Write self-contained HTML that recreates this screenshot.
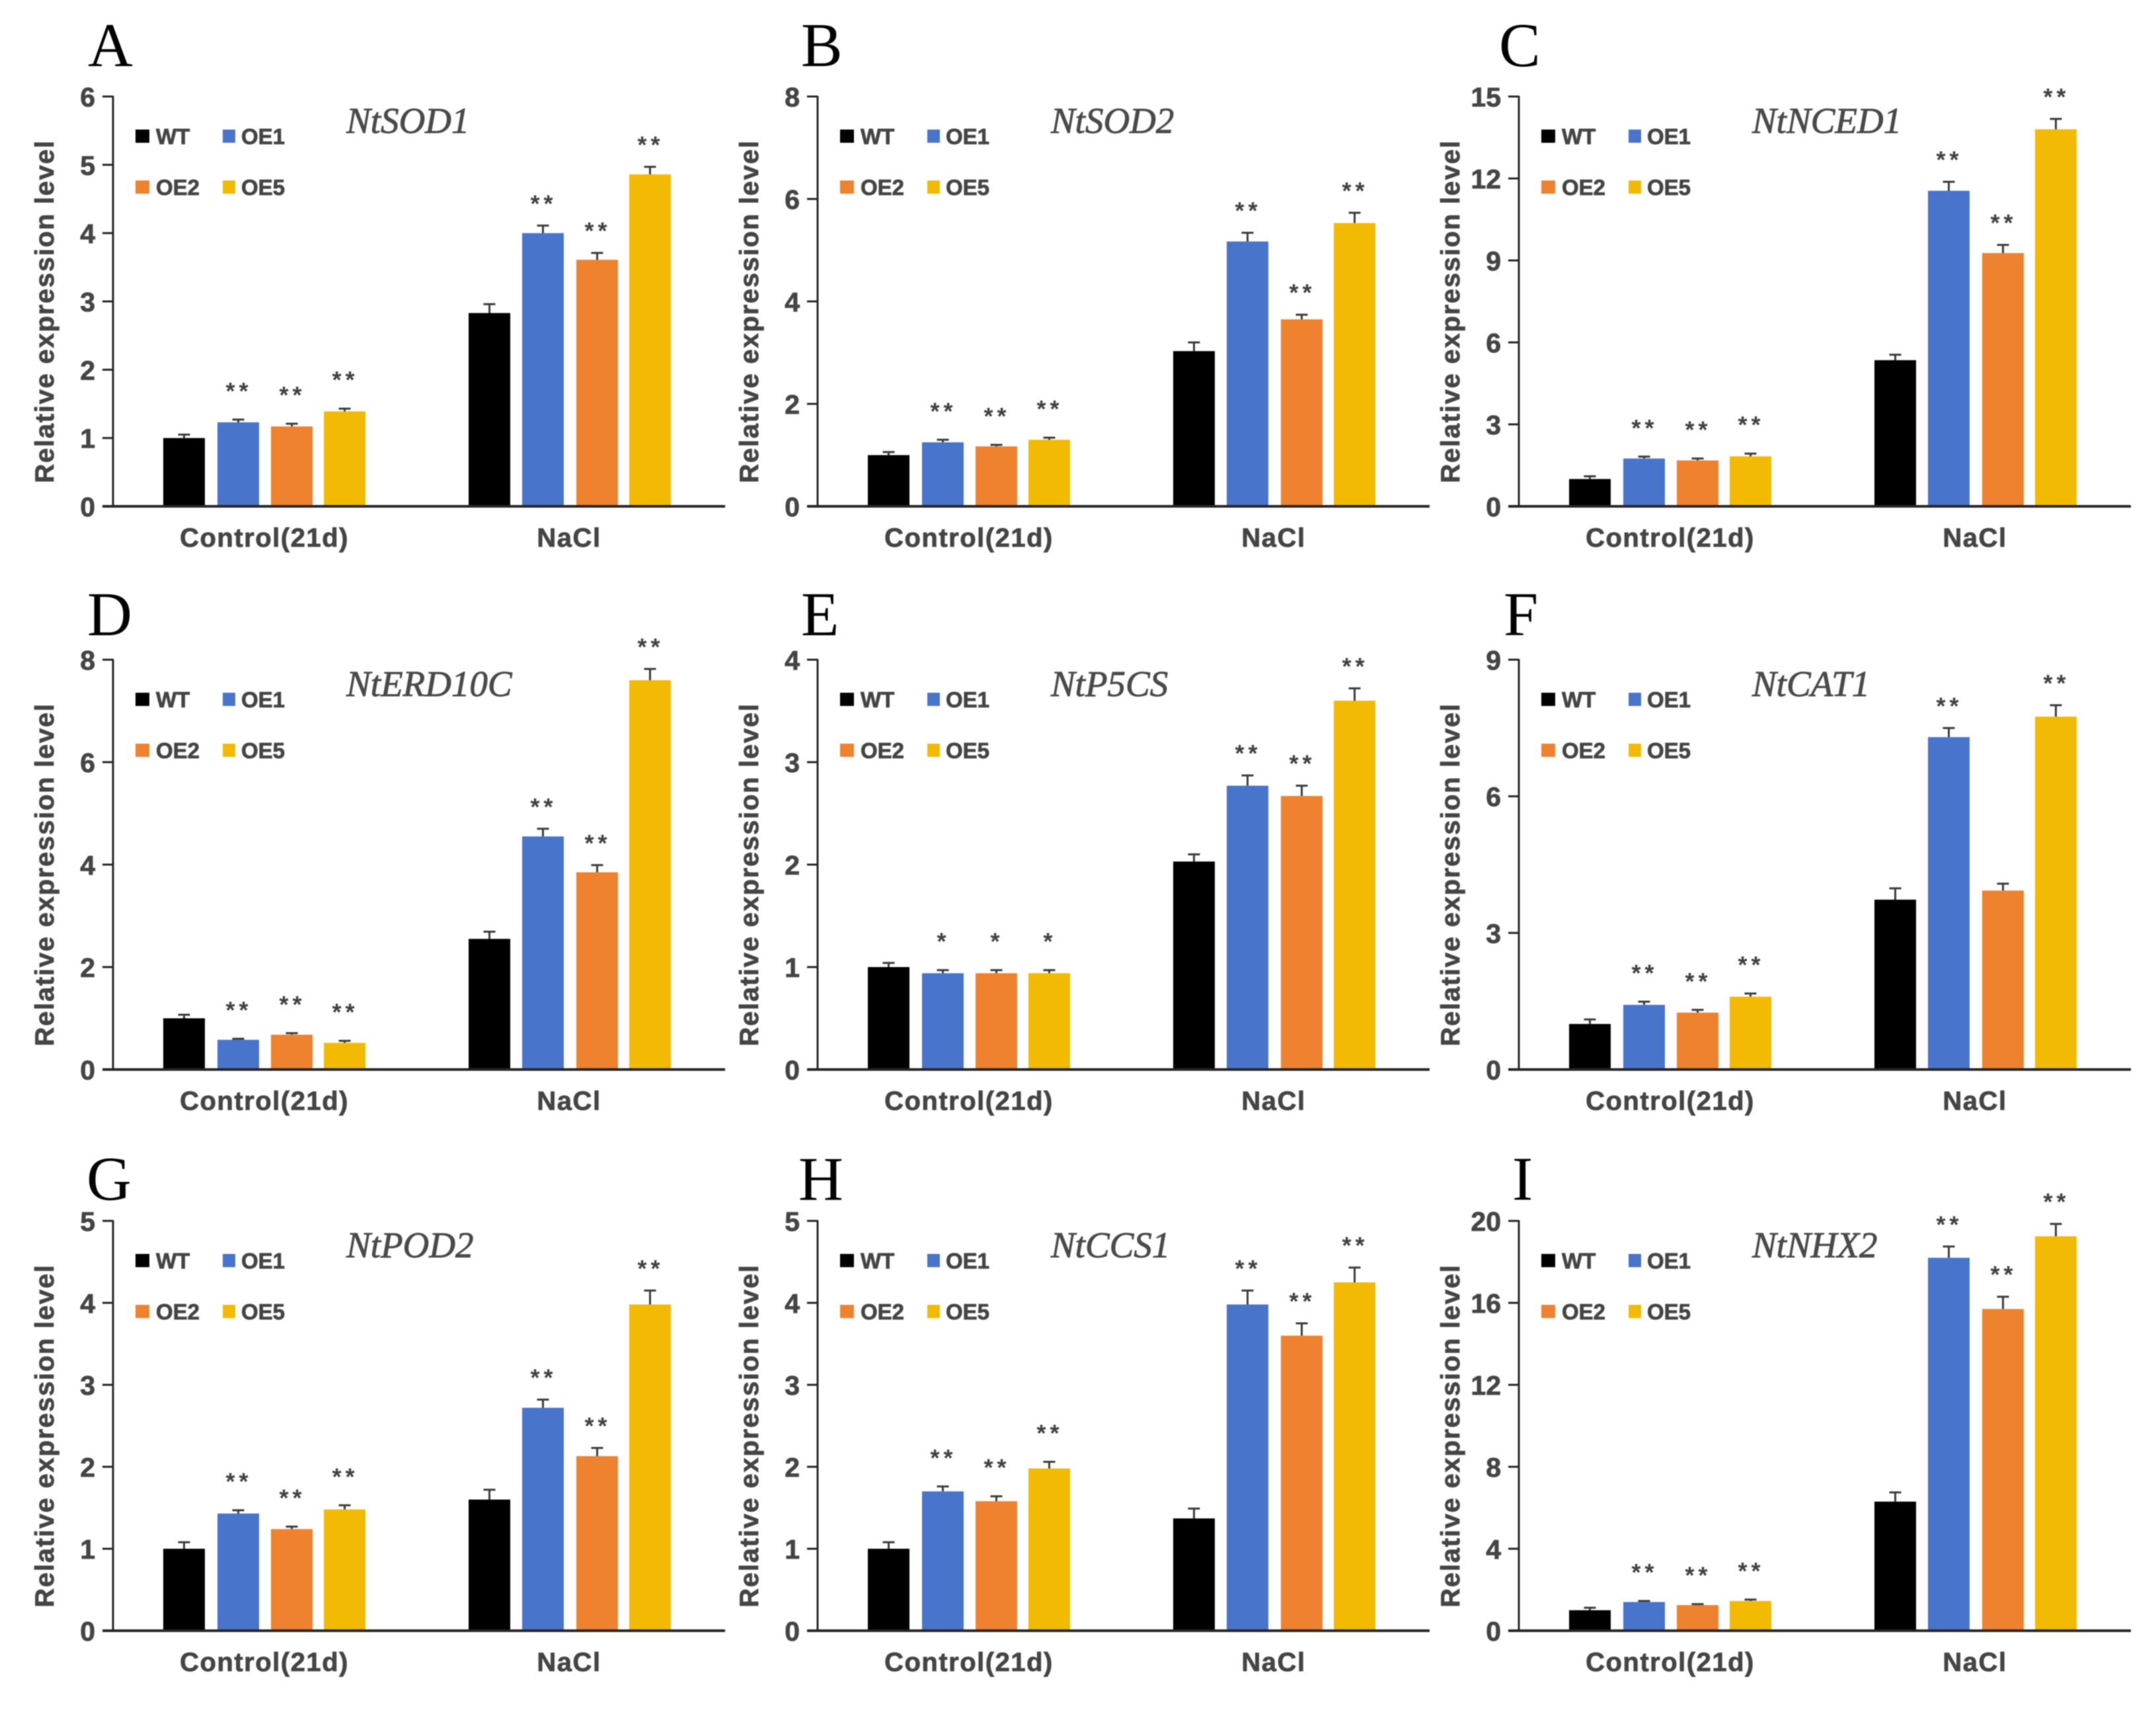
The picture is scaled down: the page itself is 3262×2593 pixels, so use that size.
<!DOCTYPE html>
<html lang="en">
<head>
<meta charset="utf-8">
<title>Relative expression levels of stress-related genes</title>
<style>
html,body{margin:0;padding:0;background:#fff;}
body{width:3262px;height:2593px;overflow:hidden;}
svg{display:block;filter:blur(0.9px);}
text{font-family:"Liberation Sans",Arial,sans-serif;}
</style>
</head>
<body>
<svg id="figure" xmlns="http://www.w3.org/2000/svg" width="3262" height="2593" viewBox="0 0 3262 2593"></svg>
<script>
// ---- data: [WT, OE1, OE2, OE5] Control then NaCl ----
const seriesNames = ["WT", "OE1", "OE2", "OE5"];
const groupNames = ["Control(21d)", "NaCl"];
const panelLetters = ["A", "B", "C", "D", "E", "F", "G", "H", "I"];
const geneNames = ["NtSOD1", "NtSOD2", "NtNCED1", "NtERD10C", "NtP5CS", "NtCAT1", "NtPOD2", "NtCCS1", "NtNHX2"];

const ticksA = [0, 1, 2, 3, 4, 5, 6];
const meansA = [1.0, 1.23, 1.17, 1.39, 2.83, 4.0, 3.61, 4.86];
const errorsA = [0.05, 0.04, 0.04, 0.04, 0.13, 0.11, 0.1, 0.11];
const starsA = ["", "**", "**", "**", "", "**", "**", "**"];

const ticksB = [0, 2, 4, 6, 8];
const meansB = [1.0, 1.25, 1.17, 1.3, 3.03, 5.17, 3.65, 5.53];
const errorsB = [0.06, 0.05, 0.03, 0.04, 0.17, 0.17, 0.09, 0.2];
const starsB = ["", "**", "**", "**", "", "**", "**", "**"];

const ticksC = [0, 3, 6, 9, 12, 15];
const meansC = [1.0, 1.75, 1.68, 1.83, 5.35, 11.55, 9.27, 13.8];
const errorsC = [0.1, 0.07, 0.07, 0.1, 0.2, 0.33, 0.3, 0.38];
const starsC = ["", "**", "**", "**", "", "**", "**", "**"];

const ticksD = [0, 2, 4, 6, 8];
const meansD = [1.0, 0.58, 0.68, 0.52, 2.55, 4.55, 3.85, 7.6];
const errorsD = [0.07, 0.02, 0.03, 0.04, 0.14, 0.15, 0.14, 0.22];
const starsD = ["", "**", "**", "**", "", "**", "**", "**"];

const ticksE = [0, 1, 2, 3, 4];
const meansE = [1.0, 0.94, 0.94, 0.94, 2.03, 2.77, 2.67, 3.6];
const errorsE = [0.04, 0.03, 0.03, 0.03, 0.07, 0.1, 0.1, 0.12];
const starsE = ["", "*", "*", "*", "", "**", "**", "**"];

const ticksF = [0, 3, 6, 9];
const meansF = [1.0, 1.42, 1.25, 1.6, 3.73, 7.3, 3.93, 7.75];
const errorsF = [0.1, 0.07, 0.06, 0.07, 0.25, 0.2, 0.15, 0.25];
const starsF = ["", "**", "**", "**", "", "**", "", "**"];

const ticksG = [0, 1, 2, 3, 4, 5];
const meansG = [1.0, 1.43, 1.24, 1.48, 1.6, 2.72, 2.13, 3.98];
const errorsG = [0.08, 0.04, 0.03, 0.05, 0.12, 0.1, 0.1, 0.17];
const starsG = ["", "**", "**", "**", "", "**", "**", "**"];

const ticksH = [0, 1, 2, 3, 4, 5];
const meansH = [1.0, 1.7, 1.58, 1.98, 1.37, 3.98, 3.6, 4.25];
const errorsH = [0.08, 0.06, 0.06, 0.08, 0.12, 0.17, 0.15, 0.18];
const starsH = ["", "**", "**", "**", "", "**", "**", "**"];

const ticksI = [0, 4, 8, 12, 16, 20];
const meansI = [1.0, 1.4, 1.25, 1.45, 6.3, 18.2, 15.7, 19.25];
const errorsI = [0.12, 0.05, 0.05, 0.07, 0.45, 0.55, 0.6, 0.6];
const starsI = ["", "**", "**", "**", "", "**", "**", "**"];

const allTicks = [ticksA, ticksB, ticksC, ticksD, ticksE, ticksF, ticksG, ticksH, ticksI];
const allMeans = [meansA, meansB, meansC, meansD, meansE, meansF, meansG, meansH, meansI];
const allErrors = [errorsA, errorsB, errorsC, errorsD, errorsE, errorsF, errorsG, errorsH, errorsI];
const allStars = [starsA, starsB, starsC, starsD, starsE, starsF, starsG, starsH, starsI];

// ---- layout / style (not data) ----
const seriesColors = ["#000000", "#4874CB", "#EE822F", "#F2BA02"];
const textColor = "#454545";
const axisColor = "#262626";
const columnAxisX = [171, 1237, 2298];
const rowTopY = [146, 998, 1847];
const plotHeight = 620;
const axisLength = 926;
const barWidth = 63;
const barOffsets = [76, 158, 239, 319, 538, 619, 701, 781];
const letterX = [133, 1212, 2268, 132, 1212, 2275, 131, 1208, 2288];
const letterBaseline = [100, 961, 1815];

const NS = "http://www.w3.org/2000/svg";
const fig = document.getElementById("figure");

function make(parent, tag, attrs, txt) {
  const el = document.createElementNS(NS, tag);
  for (const k in attrs) el.setAttribute(k, attrs[k]);
  if (txt !== undefined) el.textContent = txt;
  parent.appendChild(el);
  return el;
}

function drawPanel(i) {
  const col = i % 3;
  const row = Math.floor(i / 3);
  const axisX = columnAxisX[col];
  const top = rowTopY[row];
  const base = top + plotHeight;
  const ticks = allTicks[i];
  const yMax = ticks[ticks.length - 1];
  const yScale = function (v) { return base - (v / yMax) * plotHeight; };
  const xScale = function (k) { return axisX + barOffsets[k]; };

  const g = make(fig, "g", {});
  
  

  const letter = make(g, "text", {x: letterX[i], y: letterBaseline[row], "font-size": 94, fill: "#000"}, panelLetters[i]);
  letter.setAttribute('style', 'font-family:"Liberation Serif",serif');
  
  

  const title = make(g, "text", {x: axisX + 353, y: top + 55, "font-size": 55, fill: "#4a4a4a", stroke: "#4a4a4a", "stroke-width": 0.9, "font-style": "italic"}, geneNames[i]);
  title.setAttribute('style', 'font-family:"Liberation Serif",serif');
  
  

  const yTitle = make(g, "text", {x: 0, y: 0, "font-size": 40, "font-weight": "bold", fill: textColor, stroke: textColor, "stroke-width": 0.8, "text-anchor": "middle", "letter-spacing": "1.75", transform: "translate(" + (axisX - 90) + "," + (top + 325) + ") rotate(-90)"}, "Relative expression level");
  
  

  // bars + error bars + significance marks
  allMeans[i].forEach(function (v, k) {
    const s = k % 4;
    const x = xScale(k);
    const y = yScale(v);
    const bar = make(g, "rect", {x: x, y: y, width: barWidth, height: base - y, fill: seriesColors[s]});
    
    

    const cx = x + barWidth / 2;
    const eTop = yScale(v + allErrors[i][k]);
    const stem = make(g, "line", {x1: cx, x2: cx, y1: y, y2: eTop, stroke: "#3a3a3a", "stroke-width": 3});
    
    
    const cap = make(g, "line", {x1: cx - 9, x2: cx + 9, y1: eTop, y2: eTop, stroke: "#3a3a3a", "stroke-width": 3});
    
    

    if (allStars[i][k]) {
      const gap = k < 4 ? 31 : 21;
      const star = make(g, "text", {x: cx + 1, y: eTop - gap, "font-size": 36, "font-weight": "bold", fill: "#404040", "text-anchor": "middle", "letter-spacing": "6"}, allStars[i][k]);
      
      
    }
  });

  // axes
  const yAxis = make(g, "line", {x1: axisX, x2: axisX, y1: top - 1, y2: base, stroke: axisColor, "stroke-width": 3});
  
  
  const xAxis = make(g, "line", {x1: axisX - 16, x2: axisX + axisLength, y1: base, y2: base, stroke: axisColor, "stroke-width": 4});
  
  

  ticks.forEach(function (t) {
    const y = yScale(t);
    const mark = make(g, "line", {x1: axisX - 16, x2: axisX, y1: y, y2: y, stroke: axisColor, "stroke-width": 3});
    
    
    const label = make(g, "text", {x: axisX - 27, y: y + 15, "font-size": 41, "font-weight": "bold", fill: textColor, stroke: textColor, "stroke-width": 0.8, "text-anchor": "end"}, String(t));
    
    
  });

  // category labels
  groupNames.forEach(function (name, n) {
    const cx = axisX + (n === 0 ? 229 : 690);
    const cat = make(g, "text", {x: cx, y: base + 61, "font-size": 40, "font-weight": "bold", fill: textColor, stroke: textColor, "stroke-width": 0.8, "text-anchor": "middle", "letter-spacing": "1.5"}, name);
    
    
  });

  // legend
  seriesNames.forEach(function (name, s) {
    const lx = axisX + (s % 2 === 0 ? 34 : 166);
    const ly = top + (s < 2 ? 60 : 137);
    const sw = make(g, "rect", {x: lx, y: ly - 10, width: s % 2 === 0 ? 21 : 19, height: 20, fill: seriesColors[s]});
    
    
    const lt = make(g, "text", {x: lx + (s % 2 === 0 ? 31 : 28), y: ly + 12, "font-size": 33, "font-weight": "bold", fill: textColor, stroke: textColor, "stroke-width": 0.8}, name);
    
    
  });
}

for (let i = 0; i < panelLetters.length; i++) drawPanel(i);
</script>
</body>
</html>
